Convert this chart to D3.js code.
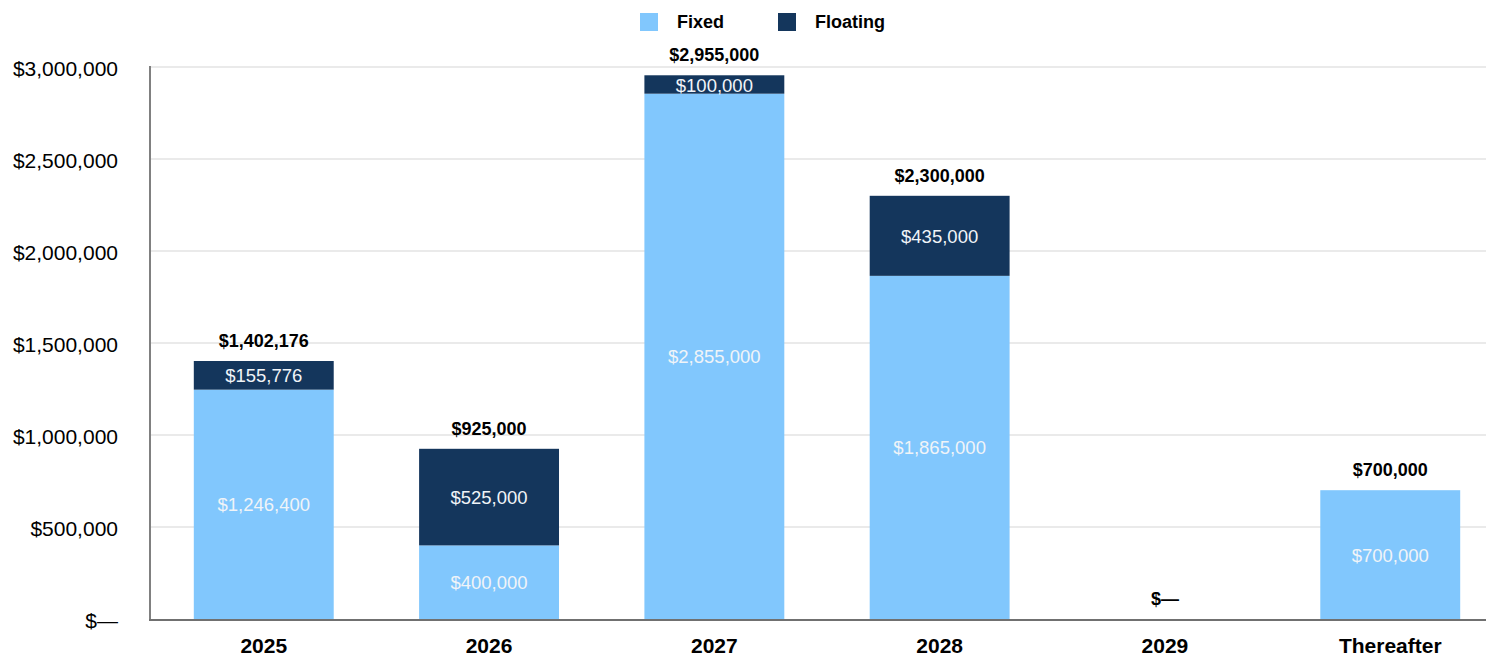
<!DOCTYPE html>
<html>
<head>
<meta charset="utf-8">
<script src="https://cdn.jsdelivr.net/npm/d3@7"></script>
<style>
  body { margin: 0; background: #fff; }
  svg { display: block; font-family: "Liberation Sans", Arial, sans-serif; }
</style>
</head>
<body>
<svg id="chart" width="1486" height="657"></svg>
<script>
// Debt maturities by year, split fixed / floating.
const years = ["2025", "2026", "2027", "2028", "2029", "Thereafter"];
const fixedValues = [1246400, 400000, 2855000, 1865000, 0, 700000];
const floatingValues = [155776, 525000, 100000, 435000, 0, 0];
const yTicks = [0, 500000, 1000000, 1500000, 2000000, 2500000, 3000000];

const colors = { Fixed: "#81c7fd", Floating: "#14365c" };

const svg = d3.select("#chart");
const plot = { left: 151, right: 1503, top: 67, bottom: 619 };

const rows = years.map((yr, i) => ({ year: yr, Fixed: fixedValues[i], Floating: floatingValues[i] }));
const stacked = d3.stack().keys(["Fixed", "Floating"])(rows);

const x = d3.scaleBand()
  .domain(years)
  .range([plot.left, plot.right])
  .paddingInner(0.379)
  .paddingOuter(0.19);

const y = d3.scaleLinear()
  .domain([0, 3000000])
  .range([plot.bottom, plot.top]);

const money = v => v === 0 ? "$\u2014" : "$" + d3.format(",")(v);

// gridlines
svg.append("g")
  .selectAll("line")
  .data(yTicks.slice(1))
  .join("line")
  .attr("x1", plot.left)
  .attr("x2", 1486)
  .attr("y1", d => y(d))
  .attr("y2", d => y(d))
  .attr("stroke", "#e3e3e3")
  .attr("stroke-width", 1.5);

// y axis labels
const yAxis = svg.append("g")
  .attr("transform", `translate(${plot.left},0)`)
  .call(d3.axisLeft(y).tickValues(yTicks).tickFormat(money).tickSize(0).tickPadding(33));
yAxis.select(".domain").remove();
yAxis.selectAll("text")
  .attr("font-size", 21)
  .attr("fill", "#000")
  .attr("dy", "0.4em")
  .style("font-family", "'Liberation Sans', Arial, sans-serif");

// bars
svg.append("g")
  .selectAll("g")
  .data(stacked)
  .join("g")
  .attr("fill", d => colors[d.key])
  .selectAll("rect")
  .data(d => d.filter(s => s[1] - s[0] > 0))
  .join("rect")
  .attr("x", d => x(d.data.year))
  .attr("width", x.bandwidth())
  .attr("y", d => y(d[1]))
  .attr("height", d => y(d[0]) - y(d[1]));

// segment labels
stacked.forEach(layer => {
  svg.append("g")
    .selectAll("text")
    .data(layer.filter(s => s[1] - s[0] > 0))
    .join("text")
    .attr("x", d => x(d.data.year) + x.bandwidth() / 2)
    .attr("y", d => (y(d[0]) + y(d[1])) / 2)
    .attr("dy", "0.38em")
    .attr("text-anchor", "middle")
    .attr("font-size", 18.5)
    .attr("fill", "#f0f4f8")
    .text(d => money(d.data[layer.key]));
});

// total labels
svg.append("g")
  .selectAll("text")
  .data(rows)
  .join("text")
  .attr("x", d => x(d.year) + x.bandwidth() / 2)
  .attr("y", d => y(d.Fixed + d.Floating) - 14)
  .attr("text-anchor", "middle")
  .attr("font-size", 18)
  .attr("font-weight", "bold")
  .attr("fill", "#000")
  .text(d => money(d.Fixed + d.Floating));

// axis lines
svg.append("line")
  .attr("x1", plot.left - 1).attr("x2", plot.left - 1)
  .attr("y1", plot.top - 1).attr("y2", plot.bottom + 1)
  .attr("stroke", "#808080").attr("stroke-width", 2);
svg.append("line")
  .attr("x1", plot.left - 2).attr("x2", 1486)
  .attr("y1", plot.bottom + 1).attr("y2", plot.bottom + 1)
  .attr("stroke", "#707070").attr("stroke-width", 2);

// x axis labels
svg.append("g")
  .selectAll("text")
  .data(years)
  .join("text")
  .attr("x", d => x(d) + x.bandwidth() / 2)
  .attr("y", 653)
  .attr("text-anchor", "middle")
  .attr("font-size", 21)
  .attr("font-weight", "bold")
  .attr("fill", "#000")
  .text(d => d);

// legend
const legend = svg.append("g");
[["Fixed", 640], ["Floating", 778]].forEach(([key, lx]) => {
  legend.append("rect")
    .attr("x", lx).attr("y", 13)
    .attr("width", 18).attr("height", 18)
    .attr("fill", colors[key]);
  legend.append("text")
    .attr("x", lx + 37).attr("y", 28)
    .attr("font-size", 18)
    .attr("font-weight", "bold")
    .attr("fill", "#000")
    .text(key);
});
</script>
</body>
</html>
